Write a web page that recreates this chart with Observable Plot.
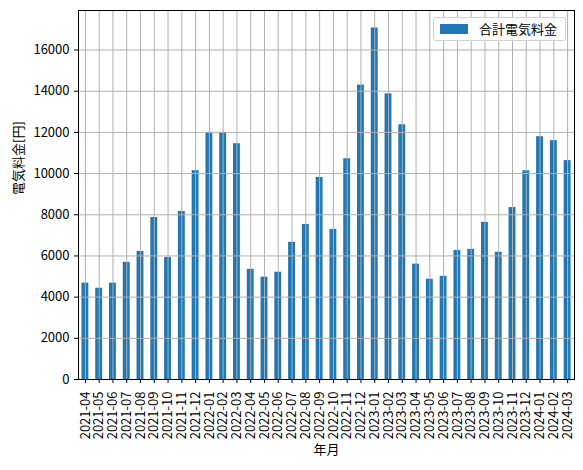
<!DOCTYPE html>
<html>
<head>
<meta charset="utf-8">
<script src="https://cdn.jsdelivr.net/npm/d3@7"></script>
<script src="https://cdn.jsdelivr.net/npm/@observablehq/plot@0.6"></script>
<style>
  body { margin: 0; background: #fff; }
  #wrap { position: relative; width: 583px; height: 470px; font-family: 'Noto Sans CJK JP', sans-serif; }
  #legend { position: absolute; left: 433px; top: 17px; width: 133px; height: 24px; border: 1px solid #d0d0d0; border-radius: 3px; background: rgba(255,255,255,0.85); box-sizing: border-box; }
  #legend .sw { position: absolute; left: 6px; top: 6px; width: 28px; height: 10px; background: #1f77b4; }
  #legend .lb { position: absolute; left: 45px; top: 1px; font-size: 13px; line-height: 20px; color: #000; white-space: nowrap; }
</style>
</head>
<body>
<div id="wrap"></div>
<script>
const months = [
  "2021-04","2021-05","2021-06","2021-07","2021-08","2021-09","2021-10","2021-11","2021-12",
  "2022-01","2022-02","2022-03","2022-04","2022-05","2022-06","2022-07","2022-08","2022-09","2022-10","2022-11","2022-12",
  "2023-01","2023-02","2023-03","2023-04","2023-05","2023-06","2023-07","2023-08","2023-09","2023-10","2023-11","2023-12",
  "2024-01","2024-02","2024-03"
];
const costs = [
  4680, 4430, 4680, 5690, 6220, 7870, 5930, 8160, 10140,
  12000, 12000, 11450, 5350, 4970, 5210, 6660, 7530, 9810, 7290, 10720, 14300,
  17070, 13870, 12370, 5600, 4870, 5010, 6270, 6320, 7630, 6180, 8350, 10140,
  11790, 11600, 10630
];
const yTicks = [0, 2000, 4000, 6000, 8000, 10000, 12000, 14000, 16000];
const seriesName = "合計電気料金";
const xLabel = "年月";
const yLabel = "電気料金[円]";

const data = months.map((m, i) => ({month: m, value: costs[i]}));

const chart = Plot.plot({
  width: 583, height: 470,
  marginLeft: 78, marginRight: 9, marginTop: 10, marginBottom: 91,
  style: {fontFamily: "'Noto Sans CJK JP', sans-serif", fontSize: "13px", color: "#000", background: "#fff", overflow: "visible"},
  x: {domain: months, paddingInner: 0.5, paddingOuter: 0.25, round: false, label: null},
  y: {domain: [0, 17920], label: null},
  marks: [
    Plot.barY(data, {x: "month", y: "value", fill: "#1f77b4"}),
    Plot.gridX({stroke: "#b0b0b0", strokeOpacity: 1, strokeWidth: 1}),
    Plot.gridY(yTicks, {stroke: "#b0b0b0", strokeOpacity: 1, strokeWidth: 1}),
    Plot.frame({stroke: "#000", strokeWidth: 1}),
    Plot.axisY(yTicks, {tickSize: 4, tickPadding: 5, tickFormat: d3.format("d"), label: null, fontSize: 13}),
    Plot.axisX({tickRotate: -90, tickSize: 4, tickPadding: 8, label: null, fontSize: 13}),
    Plot.text([yLabel], {frameAnchor: "left", dx: -60, rotate: -90, fontSize: 13, fill: "#000"}),
    Plot.text([xLabel], {frameAnchor: "bottom", dy: 74, fontSize: 13, fill: "#000"})
  ]
});

const wrap = document.getElementById("wrap");
wrap.appendChild(chart);
const legend = document.createElement("div");
legend.id = "legend";
legend.innerHTML = `<div class="sw"></div><div class="lb">${seriesName}</div>`;
wrap.appendChild(legend);
</script>
</body>
</html>
